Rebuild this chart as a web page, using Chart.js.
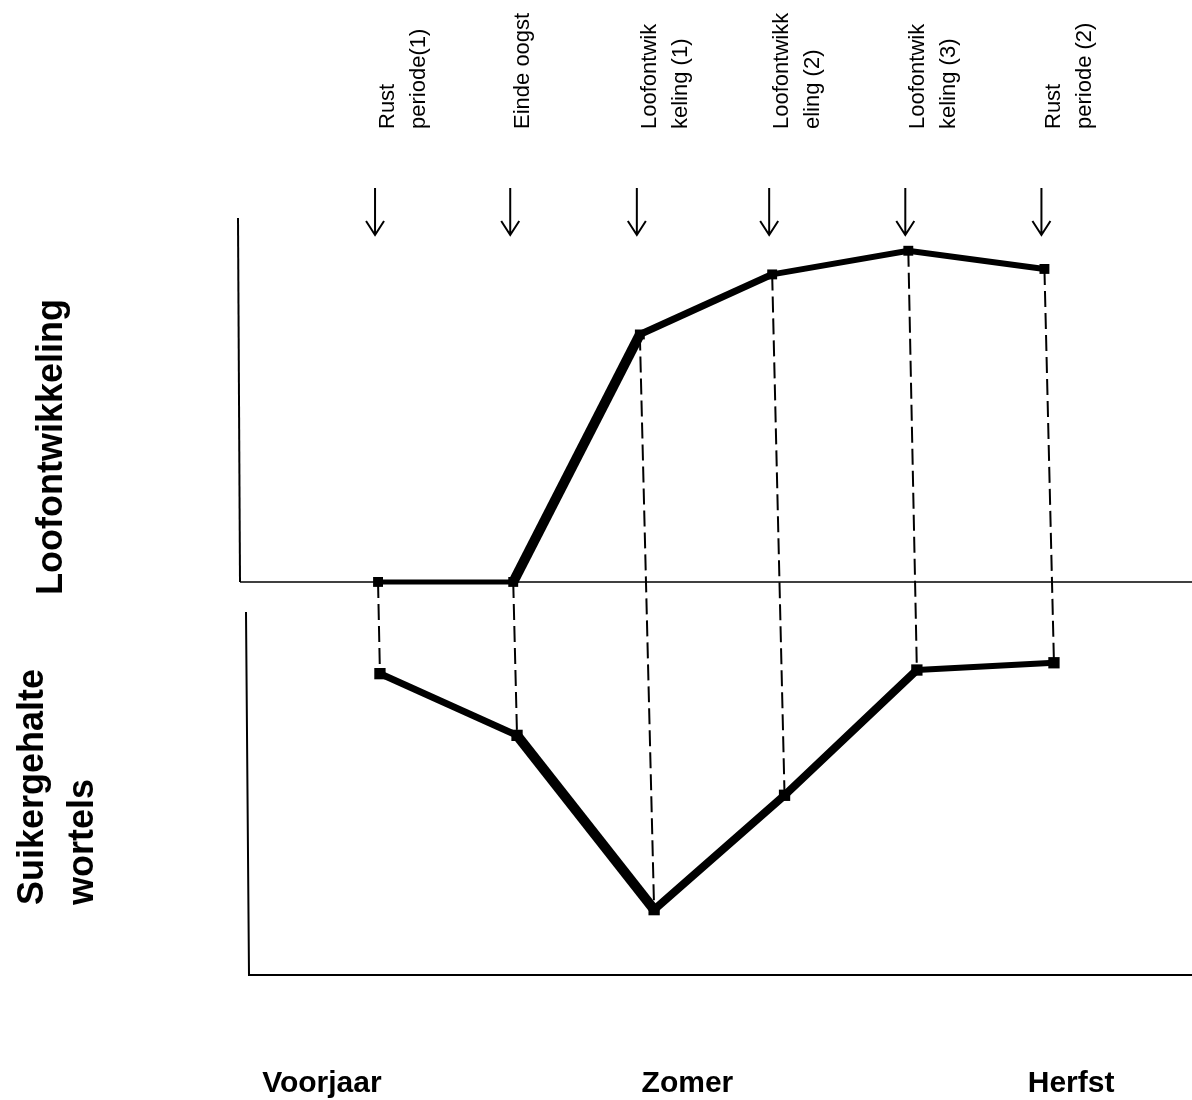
<!DOCTYPE html>
<html>
<head>
<meta charset="utf-8">
<script src="https://cdn.jsdelivr.net/npm/chart.js@4/dist/chart.umd.min.js"></script>
<style>
    body { margin: 0; background: #fff; }
    canvas { display: block; }
</style>
</head>
<body>
<canvas id="schema" width="1192" height="1100"></canvas>
<script>
// stadia van de teelt (boven de grafiek, met pijl)
const stageLabels = [
    ['Rust', 'periode(1)'],
    ['Einde oogst'],
    ['Loofontwik', 'keling (1)'],
    ['Loofontwikk', 'eling (2)'],
    ['Loofontwik', 'keling (3)'],
    ['Rust', 'periode (2)']
]
// positie in het seizoen (0 = begin, 100 = einde)
const loofX = [14.5, 28.7, 42.0, 55.9, 70.2, 84.5]
const sugarX = [14.7, 29.1, 43.5, 57.2, 71.1, 85.5]
// relatieve waarden (0 - 10)
const loofValues = [0, 0, 6.8, 8.45, 9.1, 8.6]
const sugarValues = [8.3, 6.6, 1.8, 4.95, 8.4, 8.6]

const seasons = ['Voorjaar', 'Zomer', 'Herfst']
const seasonX = [8.6, 47, 87.3]

// dikte van de lijnstukken (zoals getekend)
const loofWidths = [5, 10, 7, 6, 6]
const sugarWidths = [7, 10, 8, 8, 6]

const ink = '#000'
const textFont = '"Liberation Sans", Arial, sans-serif'

function drawRotated(ctx, text, x, y, font) {
    ctx.save()
    ctx.translate(x, y)
    ctx.rotate(-Math.PI / 2)
    ctx.font = font
    ctx.textAlign = 'left'
    ctx.textBaseline = 'alphabetic'
    ctx.fillText(text, 0, 0)
    ctx.restore()
}

const schemaPlugin = {
    id: 'schema',
    beforeDatasetsDraw(chart) {
        const ctx = chart.ctx
        const x = chart.scales.x
        const yTop = chart.scales.yTop
        const ySug = chart.scales.ySug
        const area = chart.chartArea

        ctx.save()
        ctx.strokeStyle = ink
        // assen bovenste paneel
        ctx.lineWidth = 2
        ctx.beginPath()
        ctx.moveTo(area.left - 2, yTop.getPixelForValue(10))
        ctx.lineTo(area.left, yTop.getPixelForValue(0))
        ctx.stroke()
        ctx.lineWidth = 1.5
        ctx.beginPath()
        ctx.moveTo(area.left, yTop.getPixelForValue(0))
        ctx.lineTo(area.right, yTop.getPixelForValue(0))
        ctx.stroke()
        // assen onderste paneel
        ctx.lineWidth = 2
        ctx.beginPath()
        ctx.moveTo(area.left + 6, ySug.getPixelForValue(10))
        ctx.lineTo(area.left + 9, ySug.getPixelForValue(0))
        ctx.lineTo(area.right, ySug.getPixelForValue(0))
        ctx.stroke()

        // verbindingslijnen tussen de twee panelen
        ctx.lineWidth = 2
        ctx.setLineDash([16, 6])
        loofX.forEach((lx, i) => {
            ctx.beginPath()
            ctx.moveTo(x.getPixelForValue(lx), yTop.getPixelForValue(loofValues[i]))
            ctx.lineTo(x.getPixelForValue(sugarX[i]), ySug.getPixelForValue(sugarValues[i]))
            ctx.stroke()
        })
        ctx.restore()
    },
    afterDraw(chart) {
        const ctx = chart.ctx
        const x = chart.scales.x
        const area = chart.chartArea

        ctx.save()
        ctx.fillStyle = ink
        ctx.strokeStyle = ink

        // pijlen en labels van de stadia
        loofX.forEach((lx, i) => {
            const px = x.getPixelForValue(lx) - 3
            ctx.lineWidth = 2
            ctx.beginPath()
            ctx.moveTo(px, area.top - 30)
            ctx.lineTo(px, area.top + 17)
            ctx.moveTo(px - 9, area.top + 3)
            ctx.lineTo(px, area.top + 17)
            ctx.lineTo(px + 9, area.top + 3)
            ctx.stroke()

            stageLabels[i].forEach((line, j) => {
                drawRotated(ctx, line, px + 19 + j * 31, 129, '22px ' + textFont)
            })
        })

        // titels van de panelen
        drawRotated(ctx, 'Loofontwikkeling', 62, 595, 'bold 36px ' + textFont)
        drawRotated(ctx, 'Suikergehalte', 43, 905, 'bold 36px ' + textFont)
        drawRotated(ctx, 'wortels', 93, 905, 'bold 36px ' + textFont)

        // seizoenen
        ctx.font = 'bold 30px ' + textFont
        ctx.textAlign = 'center'
        ctx.textBaseline = 'alphabetic'
        seasons.forEach((s, i) => {
            ctx.fillText(s, x.getPixelForValue(seasonX[i]), 1092)
        })
        ctx.restore()
    }
}

const ctx = document.getElementById('schema')
const chart = new Chart(ctx, {
    type: 'line',
    data: {
        datasets: [
            {
                label: 'Loofontwikkeling',
                data: loofX.map((v, i) => ({ x: v, y: loofValues[i] })),
                yAxisID: 'yTop',
                borderColor: ink,
                backgroundColor: ink,
                borderJoinStyle: 'miter',
                pointStyle: 'rect',
                pointRadius: 7,
                pointBorderWidth: 0,
                segment: {
                    borderWidth: (c) => loofWidths[c.p0DataIndex]
                }
            },
            {
                label: 'Suikergehalte wortels',
                data: sugarX.map((v, i) => ({ x: v, y: sugarValues[i] })),
                yAxisID: 'ySug',
                borderColor: ink,
                backgroundColor: ink,
                borderJoinStyle: 'miter',
                pointStyle: 'rect',
                pointRadius: 8,
                pointBorderWidth: 0,
                segment: {
                    borderWidth: (c) => sugarWidths[c.p0DataIndex]
                }
            }
        ]
    },
    options: {
        responsive: false,
        animation: false,
        devicePixelRatio: 1,
        layout: {
            autoPadding: false,
            padding: { left: 240, top: 218, right: 0, bottom: 125 }
        },
        plugins: {
            legend: { display: false },
            tooltip: { enabled: false }
        },
        scales: {
            x: { type: 'linear', min: 0, max: 100, display: false },
            // bovenste paneel: 0 op de basislijn, 10 bovenaan
            yTop: { type: 'linear', min: -10.8, max: 10, display: false },
            // onderste paneel: 0 op de onderste as
            ySug: { type: 'linear', min: 0, max: 20.85, display: false }
        }
    },
    plugins: [schemaPlugin]
})
</script>
</body>
</html>
